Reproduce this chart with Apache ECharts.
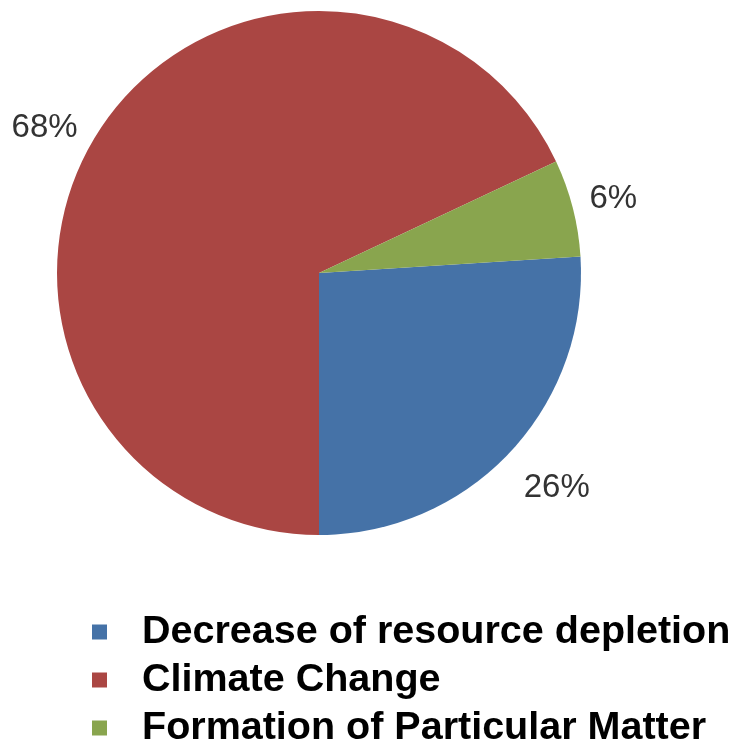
<!DOCTYPE html>
<html>
<head>
<meta charset="utf-8">
<script src="https://cdn.jsdelivr.net/npm/echarts@6/dist/echarts.min.js"></script>
<style>
  html, body { margin: 0; padding: 0; background: #fff; }
  #chart { width: 736px; height: 745px; }
</style>
</head>
<body>
<div id="chart"></div>
<script>
  // categories and shares (percent)
  var categories = ['Decrease of resource depletion', 'Climate Change', 'Formation of Particular Matter'];
  var shares     = [26, 68, 6];
  var colors     = ['#4572A7', '#AA4643', '#89A54E'];

  var myChart = echarts.init(document.getElementById('chart'));

  var pieData = categories.map(function (n, i) {
    return { name: n, value: shares[i], itemStyle: { color: colors[i] } };
  });

  // small nudges so labels sit where the original put them
  var labelNudge = [[0, 27], [-5, 2], [0, -6]];

  // one legend per row, so the column never wraps at the bottom edge
  var legends = categories.map(function (n, i) {
    return {
      orient: 'vertical',
      left: 92,
      top: 608 + i * 48,
      padding: 0,
      itemWidth: 15,
      itemHeight: 15,
      icon: 'rect',
      data: [n],
      textStyle: {
        fontFamily: 'Liberation Sans, Arial, sans-serif',
        fontWeight: 'bold',
        fontSize: 39.5,
        lineHeight: 48,
        color: '#000',
        padding: [0, 0, 0, 30]
      }
    };
  });

  var option = {
    animation: false,
    legend: legends,
    series: [{
      type: 'pie',
      center: [319, 273],
      radius: 262,
      startAngle: 3.6,
      clockwise: true,
      avoidLabelOverlap: false,
      data: pieData,
      label: {
        show: true,
        position: 'outside',
        formatter: '{c}%',
        fontFamily: 'Liberation Sans, Arial, sans-serif',
        fontSize: 33,
        color: '#333',
        distanceToLabelLine: 5
      },
      labelLine: { show: false, length: 12, length2: 0 },
      labelLayout: function (p) {
        return { dx: labelNudge[p.dataIndex][0], dy: labelNudge[p.dataIndex][1] };
      },
      emphasis: { disabled: true }
    }]
  };
  myChart.setOption(option);
</script>
</body>
</html>
